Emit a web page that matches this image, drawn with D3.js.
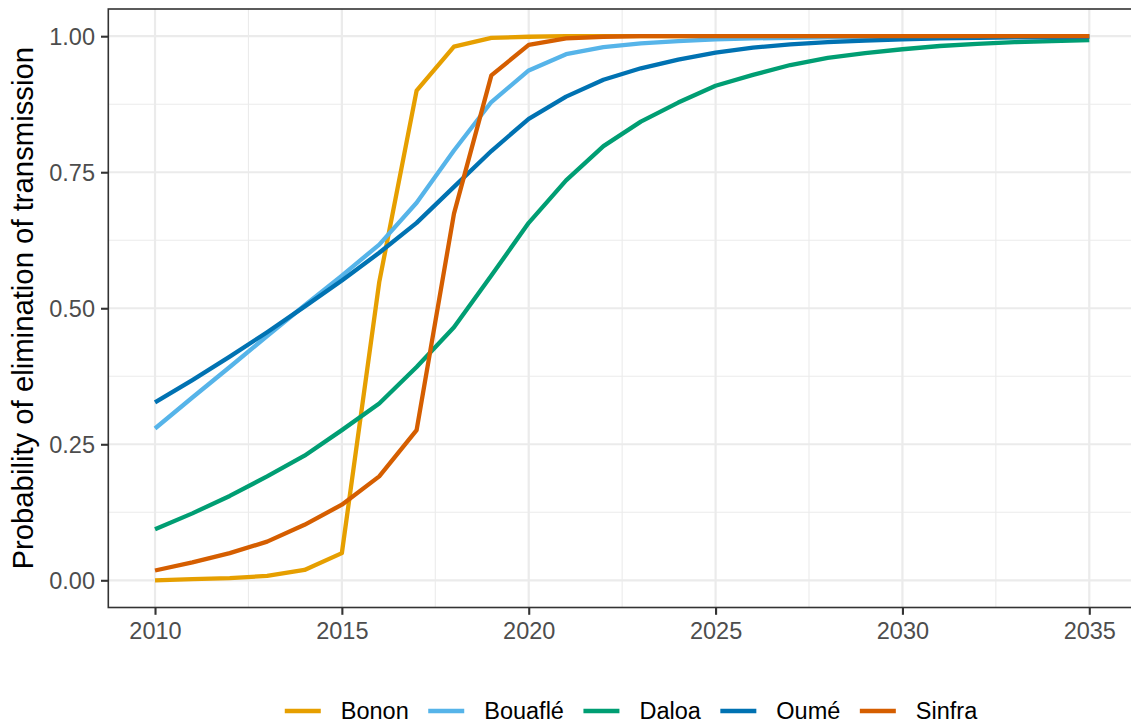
<!DOCTYPE html>
<html>
<head>
<meta charset="utf-8">
<script src="https://cdn.jsdelivr.net/npm/d3@7"></script>
<style>
  html, body { margin: 0; padding: 0; background: #fff; }
  svg { display: block; font-family: "Liberation Sans", Arial, sans-serif; }
</style>
</head>
<body>
<svg id="chart" width="1131" height="723"></svg>
<script>
const years = d3.range(2010, 2036);
const seriesNames = ["Bonon", "Bouaflé", "Daloa", "Oumé", "Sinfra"];
const seriesColors = ["#E69F00", "#56B4E9", "#009E73", "#0072B2", "#D55E00"];

const bonon = [0.000, 0.002, 0.004, 0.008, 0.019, 0.050, 0.548, 0.900, 0.981, 0.997,
  0.999, 1.000, 1.000, 1.000, 1.000, 1.000, 1.000, 1.000, 1.000, 1.000,
  1.000, 1.000, 1.000, 1.000, 1.000, 1.000];
const bouafle = [0.279, 0.336, 0.392, 0.449, 0.505, 0.560, 0.617, 0.694, 0.790, 0.879,
  0.937, 0.967, 0.980, 0.987, 0.991, 0.994, 0.996, 0.997, 0.998, 0.998,
  0.999, 0.999, 0.999, 0.999, 1.000, 1.000];
const daloa = [0.094, 0.123, 0.155, 0.191, 0.229, 0.276, 0.325, 0.392, 0.465, 0.560,
  0.657, 0.735, 0.798, 0.843, 0.878, 0.909, 0.929, 0.947, 0.960, 0.969,
  0.976, 0.982, 0.986, 0.989, 0.991, 0.993];
const oume = [0.327, 0.368, 0.411, 0.456, 0.503, 0.551, 0.602, 0.657, 0.723, 0.789,
  0.848, 0.889, 0.920, 0.941, 0.957, 0.970, 0.979, 0.985, 0.989, 0.992,
  0.994, 0.996, 0.997, 0.998, 0.998, 0.999];
const sinfra = [0.018, 0.033, 0.050, 0.071, 0.102, 0.139, 0.191, 0.276, 0.674, 0.928,
  0.984, 0.996, 0.999, 1.000, 1.000, 1.000, 1.000, 1.000, 1.000, 1.000,
  1.000, 1.000, 1.000, 1.000, 1.000, 1.000];

const xTicks = [2010, 2015, 2020, 2025, 2030, 2035];
const xMinor = [2012.5, 2017.5, 2022.5, 2027.5, 2032.5];
const yTicks = [0, 0.25, 0.5, 0.75, 1.0];
const yMinor = [0.125, 0.375, 0.625, 0.875];
const yTitle = "Probability of elimination of transmission";

const seriesValues = [bonon, bouafle, daloa, oume, sinfra];
const series = seriesNames.map((name, i) => ({
  name, color: seriesColors[i],
  values: years.map((yr, j) => ({ x: yr, y: seriesValues[i][j] }))
}));

const svg = d3.select("#chart");
const panel = { left: 108.3, right: 1136, top: 9, bottom: 607.5 };

const x = d3.scaleLinear().domain([2008.75, 2036.25]).range([panel.left, panel.right]);
const y = d3.scaleLinear().domain([-0.05, 1.05]).range([panel.bottom, panel.top]);

svg.append("rect").attr("width", 1131).attr("height", 723).attr("fill", "#fff");

const grid = svg.append("g");
// minor grid
grid.selectAll(".xmin").data(xMinor).enter().append("line")
  .attr("x1", d => x(d)).attr("x2", d => x(d))
  .attr("y1", panel.top).attr("y2", panel.bottom)
  .attr("stroke", "#EBEBEB").attr("stroke-width", 1.1);
grid.selectAll(".ymin").data(yMinor).enter().append("line")
  .attr("x1", panel.left).attr("x2", panel.right)
  .attr("y1", d => y(d)).attr("y2", d => y(d))
  .attr("stroke", "#EBEBEB").attr("stroke-width", 1.1);
// major grid
grid.selectAll(".xmaj").data(xTicks).enter().append("line")
  .attr("x1", d => x(d)).attr("x2", d => x(d))
  .attr("y1", panel.top).attr("y2", panel.bottom)
  .attr("stroke", "#EBEBEB").attr("stroke-width", 2.2);
grid.selectAll(".ymaj").data(yTicks).enter().append("line")
  .attr("x1", panel.left).attr("x2", panel.right)
  .attr("y1", d => y(d)).attr("y2", d => y(d))
  .attr("stroke", "#EBEBEB").attr("stroke-width", 2.2);

// lines
const line = d3.line().x(d => x(d.x)).y(d => y(d.y));
svg.append("g").selectAll("path").data(series).enter().append("path")
  .attr("d", d => line(d.values))
  .attr("fill", "none")
  .attr("stroke", d => d.color)
  .attr("stroke-width", 4.3)
  .attr("stroke-linejoin", "round");

// panel border
svg.append("rect")
  .attr("x", panel.left).attr("y", panel.top)
  .attr("width", panel.right - panel.left).attr("height", panel.bottom - panel.top)
  .attr("fill", "none").attr("stroke", "#333333").attr("stroke-width", 1.6);

// x axis
const xAxis = d3.axisBottom(x).tickValues(xTicks).tickFormat(d3.format("d"))
  .tickSize(7.3).tickPadding(5);
const gx = svg.append("g").attr("transform", `translate(0,${panel.bottom})`).call(xAxis);
gx.select(".domain").remove();
gx.selectAll(".tick line").attr("stroke", "#333333").attr("stroke-width", 2.1);
gx.selectAll(".tick text")
  .attr("font-family", "Liberation Sans, Arial, sans-serif")
  .attr("font-size", 23.5).attr("fill", "#4D4D4D")
  .attr("dy", null).attr("y", 31);

// y axis
const yAxis = d3.axisLeft(y).tickValues(yTicks).tickFormat(d3.format(".2f"))
  .tickSize(7.3).tickPadding(6);
const gy = svg.append("g").attr("transform", `translate(${panel.left},0)`).call(yAxis);
gy.select(".domain").remove();
gy.selectAll(".tick line").attr("stroke", "#333333").attr("stroke-width", 2.1);
gy.selectAll(".tick text")
  .attr("font-family", "Liberation Sans, Arial, sans-serif")
  .attr("font-size", 23.5).attr("fill", "#4D4D4D")
  .attr("dy", "0.36em");

// y title
svg.append("text")
  .attr("transform", `translate(33,${(panel.top + panel.bottom) / 2}) rotate(-90)`)
  .attr("text-anchor", "middle")
  .attr("font-size", 29.3).attr("fill", "#000")
  .text(yTitle);

// legend
const legend = svg.append("g");
let cx = 0;
const items = [];
series.forEach(s => {
  const g = legend.append("g");
  g.append("line").attr("x1", 0).attr("x2", 36).attr("y1", 0).attr("y2", 0)
    .attr("stroke", s.color).attr("stroke-width", 4.3);
  const t = g.append("text").attr("x", 56).attr("y", 0).attr("dy", "0.36em")
    .attr("font-size", 23.5).attr("fill", "#000").text(s.name);
  const w = t.node().getComputedTextLength();
  g.attr("transform", `translate(${cx},0)`);
  cx += 56 + w + 19.5;
});
const totalW = cx - 19.5;
legend.attr("transform", `translate(${631 - totalW / 2},711)`);
</script>
</body>
</html>
